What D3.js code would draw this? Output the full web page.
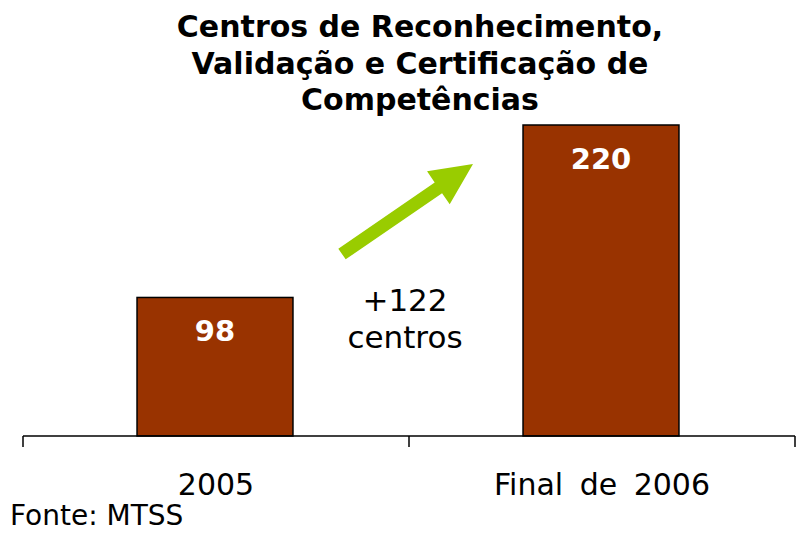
<!DOCTYPE html>
<html><head><meta charset="utf-8">
<script src="https://cdn.jsdelivr.net/npm/d3@7"></script>
<style>body{margin:0;background:#fff}svg{display:block}</style>
</head><body>
<script>
const categories = ["2005", "Final de 2006"];
const values = [98, 220];
const titleLines = ["Centros de Reconhecimento,", "Validação e Certificação de", "Competências"];
const annotation = ["+122", "centros"];
const source = "Fonte: MTSS";

const W = 800, H = 533;
const svg = d3.select("body").append("svg").attr("width", W).attr("height", H);

const x = d3.scaleBand().domain(categories).range([23, 795]).paddingInner(0).paddingOuter(0);
const y = d3.scaleLinear().domain([0, 220]).range([436, 125]);
const barW = x.bandwidth() * 0.404;

// bars
svg.selectAll("rect.bar").data(values).join("rect")
  .attr("x", (d, i) => x(categories[i]) + x.bandwidth() / 2 - barW / 2 - 1)
  .attr("y", d => y(d))
  .attr("width", barW)
  .attr("height", d => y(0) - y(d))
  .attr("fill", "#993300")
  .attr("stroke", "#000").attr("stroke-width", 1.5);

// value labels
svg.selectAll("text.val").data(values).join("text")
  .attr("x", (d, i) => x(categories[i]) + x.bandwidth() / 2 - 1)
  .attr("y", d => y(d) + 44)
  .attr("text-anchor", "middle")
  .attr("font-family", "DejaVu Sans").attr("font-weight", "bold").attr("font-size", 29)
  .attr("fill", "#fff").text(d => d);

// axis
const axis = d3.axisBottom(x).tickSize(0).tickFormat("");
const gx = svg.append("g").attr("transform", `translate(0,${y(0)})`).call(axis);
gx.select(".domain").attr("stroke", "#000").attr("stroke-width", 1.5).attr("d", `M23,0H795`);
const edges = [23, ...categories.map(c => x(c) + x.bandwidth())];
gx.selectAll("line.edge").data(edges).join("line")
  .attr("x1", d => d).attr("x2", d => d).attr("y1", 0).attr("y2", 11)
  .attr("stroke", "#000").attr("stroke-width", 1.5);
svg.selectAll("text.cat").data(categories).join("text")
  .attr("x", d => x(d) + x.bandwidth() / 2)
  .attr("y", 495)
  .attr("text-anchor", "middle")
  .attr("font-family", "DejaVu Sans").attr("font-size", 30).attr("word-spacing", 7)
  .attr("fill", "#000").text(d => d);

// title
svg.append("text").attr("text-anchor", "middle")
  .attr("font-family", "DejaVu Sans").attr("font-weight", "bold").attr("font-size", 30)
  .selectAll("tspan").data(titleLines).join("tspan")
  .attr("x", 420).attr("y", (d, i) => 37 + i * 36.5).text(d => d);

// annotation text
svg.append("text").attr("text-anchor", "middle")
  .attr("font-family", "DejaVu Sans").attr("font-size", 31)
  .selectAll("tspan").data(annotation).join("tspan")
  .attr("x", 405).attr("y", (d, i) => 311 + i * 37).text(d => d);

// arrow
const a0 = [342, 254], a1 = [473, 164];
const dx = a1[0] - a0[0], dy = a1[1] - a0[1], L = Math.hypot(dx, dy);
const ux = dx / L, uy = dy / L, nx = -uy, ny = ux;
const sw = 6.5, hw = 20, hl = 42;
const hb = [a1[0] - ux * hl, a1[1] - uy * hl];
const pts = [
  [a0[0] + nx * sw, a0[1] + ny * sw],
  [hb[0] + nx * sw, hb[1] + ny * sw],
  [hb[0] + nx * hw, hb[1] + ny * hw],
  a1,
  [hb[0] - nx * hw, hb[1] - ny * hw],
  [hb[0] - nx * sw, hb[1] - ny * sw],
  [a0[0] - nx * sw, a0[1] - ny * sw]
];
svg.append("polygon").attr("points", pts.map(p => p.join(",")).join(" ")).attr("fill", "#99CC00");

// source
svg.append("text").attr("x", 10).attr("y", 525)
  .attr("font-family", "DejaVu Sans").attr("font-size", 28).attr("fill", "#000").text(source);
</script>
</body></html>
